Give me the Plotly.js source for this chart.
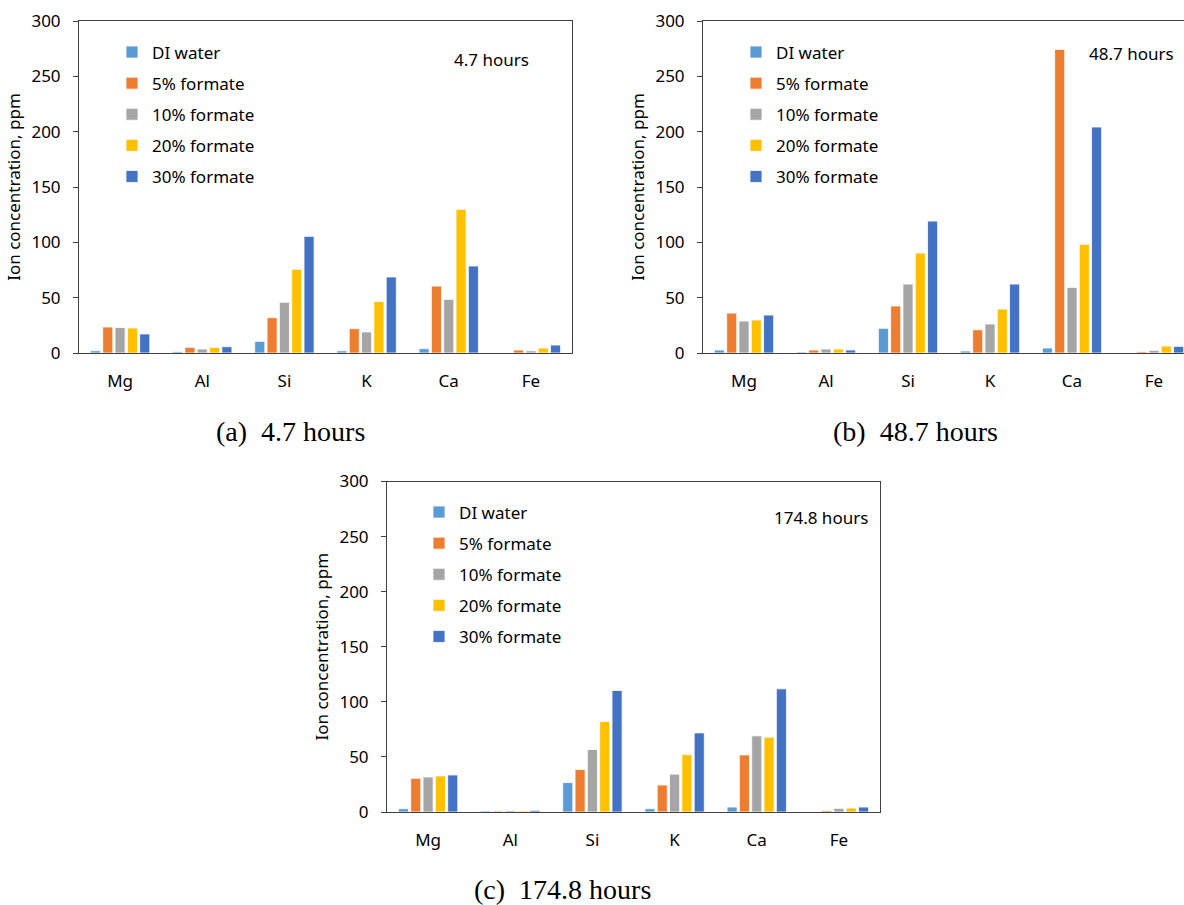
<!DOCTYPE html>
<html>
<head>
<meta charset="utf-8">
<script src="https://cdn.plot.ly/plotly-3.0.1.min.js"></script>
<style>
  html, body { margin: 0; padding: 0; background: #fff; overflow: hidden; }
  #chart { width: 1200px; height: 905px; }
</style>
</head>
<body>
<div id="chart"></div>
<script>
// ---- Data ----
const categories = ['Mg', 'Al', 'Si', 'K', 'Ca', 'Fe'];
const seriesNames = ['DI water', '5% formate', '10% formate', '20% formate', '30% formate'];
const seriesColors = ['#5B9BD5', '#ED7D31', '#A5A5A5', '#FFC000', '#4472C4'];
const yTicks = [0, 50, 100, 150, 200, 250, 300];

// (a) 4.7 hours
const a_DI  = [2.0, 1.2, 10.5, 2.0, 3.9, 0];
const a_5   = [23.5, 5.1, 31.9, 22.0, 60.5, 2.7];
const a_10  = [23.0, 3.6, 45.8, 19.0, 48.5, 2.0];
const a_20  = [22.6, 5.1, 75.6, 46.4, 129.8, 4.5];
const a_30  = [17.2, 5.7, 105.4, 68.7, 78.6, 7.2];

// (b) 48.7 hours
const b_DI  = [2.7, 0.9, 22.3, 1.8, 4.5, 0];
const b_5   = [36.1, 2.7, 42.5, 21.0, 274.3, 1.2];
const b_10  = [28.9, 3.6, 62.3, 26.2, 59.3, 2.4];
const b_20  = [29.8, 3.6, 90.3, 39.7, 98.2, 6.3];
const b_30  = [34.3, 2.7, 119.2, 62.3, 204.2, 6.0];

// (c) 174.8 hours
const c_DI  = [3.0, 0.9, 26.7, 3.0, 4.5, 0];
const c_5   = [30.6, 0.9, 38.5, 24.5, 51.8, 1.2];
const c_10  = [31.8, 1.2, 56.7, 34.3, 69.1, 3.3];
const c_20  = [32.7, 0.9, 82.1, 52.1, 67.9, 3.6];
const c_30  = [33.6, 1.5, 110.3, 71.8, 111.8, 4.5];

const panelLabels = ['4.7 hours', '48.7 hours', '174.8 hours'];
const captions = ['(a)\u00a0\u00a04.7 hours', '(b)\u00a0\u00a048.7 hours', '(c)\u00a0\u00a0174.8 hours'];
const yTitle = 'Ion concentration, ppm';

// ---- Layout helpers ----
const W = 1200, H = 905;
const px = x => x / W;
const py = y => 1 - y / H;
const FONT = 'Noto Sans, Open Sans, sans-serif';
const LINE = '#404040';

const panels = [
  { data: [a_DI, a_5, a_10, a_20, a_30], x0: 79,  x1: 572,  y0: 21,    y1: 353, legX: 112, legY: 34.5, lab: [491, 59] , cap: [290, 432]},
  { data: [b_DI, b_5, b_10, b_20, b_30], x0: 703, x1: 1195, y0: 21,    y1: 353, legX: 736, legY: 34.5, lab: [1131, 53], cap: [915, 432]},
  { data: [c_DI, c_5, c_10, c_20, c_30], x0: 387, x1: 880,  y0: 481.5, y1: 812, legX: 419, legY: 494.5, lab: [821, 517], cap: [562, 889]}
];

const traces = [];
const layout = {
  width: W, height: H,
  margin: { l: 0, r: 0, t: 0, b: 0 },
  paper_bgcolor: '#fff', plot_bgcolor: '#fff',
  barmode: 'group', bargap: 0.25, bargroupgap: 0.18,
  font: { family: FONT, size: 17, color: '#000' },
  annotations: [],
  showlegend: true
};

panels.forEach((p, i) => {
  const sfx = i === 0 ? '' : String(i + 1);
  const legName = 'legend' + sfx;
  p.data.forEach((vals, s) => {
    traces.push({
      type: 'bar',
      x: categories,
      y: vals,
      name: seriesNames[s],
      marker: { color: seriesColors[s], line: { color: '#ffffff', width: 0.8 } },
      xaxis: 'x' + sfx,
      yaxis: 'y' + sfx,
      legend: legName,
      legendgroup: 'g' + i + '_' + s,
      hoverinfo: 'x+y+name'
    });
  });
  layout['xaxis' + sfx] = {
    domain: [px(p.x0), px(p.x1)],
    anchor: 'y' + sfx,
    type: 'category',
    showline: true, linecolor: LINE, linewidth: 1, mirror: true,
    ticks: '', showgrid: false, zeroline: false,
    ticklabelstandoff: 13,
    tickfont: { family: FONT, size: 17, color: '#000' },
    fixedrange: true
  };
  layout['yaxis' + sfx] = {
    domain: [py(p.y1), py(p.y0)],
    anchor: 'x' + sfx,
    range: [0, 300],
    tickvals: yTicks,
    showline: true, linecolor: LINE, linewidth: 1, mirror: true,
    ticks: 'outside', ticklen: 5, tickcolor: LINE, tickwidth: 1,
    ticklabelstandoff: 9,
    showgrid: false, zeroline: false,
    tickfont: { family: FONT, size: 17, color: '#000' },
    title: { text: yTitle, font: { family: FONT, size: 17, color: '#000' }, standoff: 6 },
    fixedrange: true
  };
  layout[legName] = {
    x: px(p.legX), y: py(p.legY), xanchor: 'left', yanchor: 'top',
    bgcolor: 'rgba(0,0,0,0)', borderwidth: 0,
    font: { family: FONT, size: 17, color: '#000' },
    traceorder: 'grouped', tracegroupgap: 6
  };
  layout.annotations.push({
    xref: 'paper', yref: 'paper', x: px(p.lab[0]), y: py(p.lab[1]),
    xanchor: 'center', yanchor: 'middle', showarrow: false,
    text: panelLabels[i], font: { family: FONT, size: 17, color: '#000' }
  });
  layout.annotations.push({
    xref: 'paper', yref: 'paper', x: px(p.cap[0]), y: py(p.cap[1]),
    xanchor: 'center', yanchor: 'middle', showarrow: false,
    text: captions[i], font: { family: 'Liberation Serif, Times New Roman, serif', size: 28, color: '#000' }
  });
});

Plotly.newPlot('chart', traces, layout, { displayModeBar: false, staticPlot: true });
</script>
</body>
</html>
